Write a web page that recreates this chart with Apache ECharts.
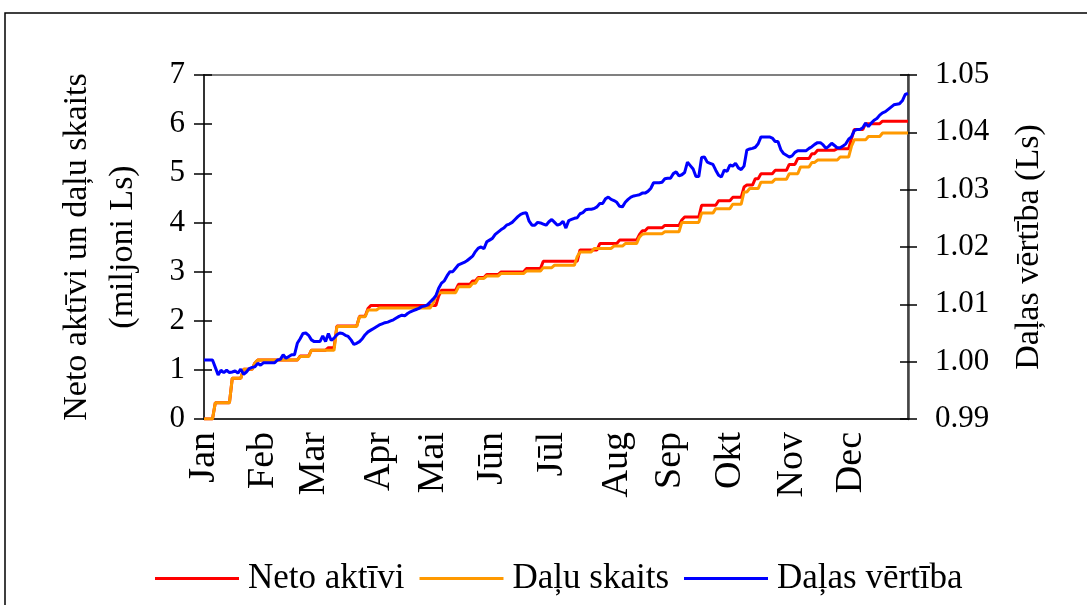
<!DOCTYPE html>
<html>
<head>
<meta charset="utf-8">
<script src="https://cdn.jsdelivr.net/npm/echarts@6/dist/echarts.min.js"></script>
<style>
html,body{margin:0;padding:0;background:#fff;}
#chart{width:1087px;height:605px;}
</style>
</head>
<body>
<div id="chart"></div>
<script>
// ---- data ----
const monthLabels = ['Jan','Feb','Mar','Apr','Mai','Jūn','Jūl','Aug','Sep','Okt','Nov','Dec'];
// trading-day index of the first day of each month
const monthStartIdx = [0,21,39,62,81,102,123,146,165,186,208,229];

const seriesNames = ['Neto aktīvi','Daļu skaits','Daļas vērtība'];

// Neto aktīvi (miljoni Ls), one value per trading day
const netoAktivi = [
0,0,0,0,
0.33,0.33,0.33,0.33,0.33,0.33,
0.83,0.83,0.83,0.83,
1.01,1.01,1.01,1.01,
1.14,
1.2,1.2,1.2,1.2,1.2,1.2,1.2,1.2,1.2,1.2,1.2,1.2,1.2,1.2,1.2,
1.28,1.28,1.28,1.28,
1.40,1.40,1.40,1.40,1.40,1.40,
1.45,1.45,1.45,
1.89,1.89,1.89,1.89,1.89,1.89,1.89,1.89,
2.09,2.09,2.09,
2.25,
2.31,2.31,2.31,2.31,2.31,2.31,2.31,2.31,2.31,2.31,2.31,2.31,2.31,2.31,2.31,2.31,2.31,2.31,2.31,2.31,2.31,2.31,2.31,2.31,
2.50,
2.62,2.62,2.62,2.62,2.62,2.62,
2.74,2.74,2.74,2.74,2.74,
2.81,2.81,
2.88,2.88,2.88,
2.94,2.94,2.94,2.94,2.94,
2.99,2.99,2.99,2.99,2.99,2.99,2.99,2.99,2.99,
3.06,3.06,3.06,3.06,3.06,3.06,
3.21,3.21,3.21,3.21,3.21,3.21,3.21,3.21,3.21,3.21,3.21,3.21,3.21,
3.44,3.44,3.44,3.44,3.44,3.44,3.44,
3.57,3.57,3.57,3.57,3.57,3.57,3.57,
3.64,3.64,3.64,3.64,3.64,3.64,3.64,
3.75,
3.83,3.83,
3.89,3.89,3.89,3.89,3.89,3.89,
3.94,3.94,3.94,3.94,3.94,3.94,
4.05,
4.11,4.11,4.11,4.11,4.11,4.11,
4.35,4.35,4.35,4.35,4.35,4.35,
4.44,4.44,4.44,4.44,4.44,
4.51,4.51,4.51,4.51,
4.72,
4.76,4.76,4.76,
4.89,4.89,
4.99,4.99,4.99,4.99,4.99,
5.06,5.06,5.06,5.06,5.06,
5.18,5.18,5.18,
5.30,5.30,5.30,5.30,5.30,
5.40,5.40,
5.47,5.47,5.47,5.47,5.47,5.47,5.47,
5.50,5.50,5.50,5.50,5.50,
5.70,
5.89,5.89,5.89,5.89,
6.01,6.01,6.01,6.01,6.01,6.01,
6.06,6.06,6.06,6.06,6.06,6.06,6.06,6.06,6.06,6.06
];

// Daļu skaits (miljoni), one value per trading day
const dajuSkaits = [
0,0,0,0,
0.33,0.33,0.33,0.33,0.33,0.33,
0.83,0.83,0.83,0.83,
1.01,1.01,1.01,1.01,
1.14,
1.2,1.2,1.2,1.2,1.2,1.2,1.2,1.2,1.2,1.2,1.2,1.2,1.2,1.2,1.2,
1.27,1.27,1.27,1.27,
1.40,1.40,1.40,1.40,1.40,1.40,1.40,1.40,1.40,
1.88,1.88,1.88,1.88,1.88,1.88,1.88,1.88,
2.08,2.08,2.08,
2.22,2.22,2.22,2.22,
2.26,2.26,2.26,2.26,2.26,2.26,2.26,2.26,2.26,2.26,2.26,2.26,2.26,2.26,2.26,2.26,2.26,2.26,2.26,
2.35,
2.50,
2.57,2.57,2.57,2.57,2.57,2.57,2.57,
2.69,2.69,2.69,2.69,2.69,
2.76,2.76,
2.86,2.86,2.86,
2.91,2.91,2.91,2.91,2.91,
2.96,2.96,2.96,2.96,2.96,2.96,2.96,2.96,2.96,
3.01,3.01,3.01,3.01,3.01,3.01,
3.08,3.08,3.08,3.08,
3.13,3.13,3.13,3.13,3.13,3.13,3.13,3.13,
3.30,
3.40,3.40,3.40,3.40,3.40,
3.47,3.47,3.47,3.47,3.47,3.47,3.47,
3.52,3.52,3.52,3.52,
3.57,3.57,3.57,3.57,3.57,
3.70,
3.76,
3.77,3.77,3.77,3.77,3.77,3.77,3.77,
3.81,3.81,3.81,3.81,3.81,3.81,
4.00,4.00,4.00,4.00,4.00,4.00,4.00,
4.19,4.19,4.19,4.19,4.19,
4.28,4.28,4.28,4.28,4.28,4.28,
4.37,4.37,4.37,4.37,
4.62,4.62,
4.69,4.69,4.69,4.69,
4.82,4.82,4.82,4.82,4.82,
4.88,4.88,4.88,4.88,4.88,
4.99,4.99,4.99,4.99,
5.13,5.13,5.13,5.13,
5.22,5.22,
5.27,5.27,5.27,5.27,5.27,5.27,5.27,5.27,
5.33,5.33,5.33,5.33,
5.55,
5.68,5.68,5.68,5.68,5.68,
5.75,5.75,5.75,5.75,5.75,
5.82,5.82,5.82,5.82,5.82,5.82,5.82,5.82,5.82,5.82
];

// Daļas vērtība (Ls), one value per trading day
const dalasVertiba = [
1.0003,1.0003,1.0003,1.0003,0.9990,0.9977,0.9985,0.9981,0.9985,0.9981,
0.9982,0.9984,0.9980,0.9987,0.9978,0.9982,0.9988,0.9990,0.9991,0.9997,
0.9994,0.9998,0.9998,0.9998,0.9998,0.9998,1.0003,1.0004,1.0012,1.0006,
1.0009,1.0012,1.0012,1.0032,1.0040,1.0049,1.0050,1.0046,1.0038,1.0035,
1.0035,1.0035,1.0045,1.0035,1.0049,1.0037,1.0041,1.0047,1.0050,1.0049,
1.0046,1.0044,1.0038,1.0030,1.0032,1.0035,1.0040,1.0047,1.0052,1.0055,
1.0058,1.0061,1.0064,1.0066,1.0068,1.0069,1.0071,1.0073,1.0076,1.0079,
1.0081,1.0080,1.0084,1.0087,1.0089,1.0091,1.0093,1.0096,1.0097,1.0099,
1.0104,1.0109,1.0115,1.0128,1.0137,1.0141,1.0150,1.0157,1.0157,1.0163,
1.0169,1.0171,1.0173,1.0176,1.0180,1.0184,1.0192,1.0198,1.0200,1.0197,
1.0209,1.0212,1.0215,1.0222,1.0226,1.0230,1.0233,1.0238,1.0240,1.0243,
1.0248,1.0253,1.0257,1.0259,1.0260,1.0245,1.0238,1.0238,1.0243,1.0242,
1.0240,1.0238,1.0244,1.0248,1.0243,1.0238,1.0240,1.0245,1.0233,1.0246,
1.0248,1.0250,1.0251,1.0258,1.0260,1.0265,1.0266,1.0266,1.0267,1.0270,
1.0276,1.0276,1.0284,1.0287,1.0283,1.0281,1.0278,1.0271,1.0270,1.0278,
1.0283,1.0287,1.0289,1.0290,1.0291,1.0294,1.0294,1.0297,1.0302,1.0312,
1.0312,1.0312,1.0313,1.0319,1.0320,1.0320,1.0328,1.0331,1.0324,1.0326,
1.0330,1.0348,1.0342,1.0336,1.0323,1.0323,1.0356,1.0357,1.0348,1.0346,
1.0344,1.0334,1.0325,1.0322,1.0334,1.0332,1.0343,1.0341,1.0346,1.0338,
1.0335,1.0341,1.0369,1.0371,1.0372,1.0374,1.0380,1.0392,1.0392,1.0392,
1.0392,1.0390,1.0384,1.0384,1.0370,1.0363,1.0360,1.0357,1.0359,1.0365,
1.0368,1.0368,1.0368,1.0368,1.0372,1.0375,1.0379,1.0382,1.0382,1.0378,
1.0372,1.0376,1.0381,1.0377,1.0373,1.0373,1.0376,1.0380,1.0388,1.0392,
1.0403,1.0405,1.0405,1.0408,1.0416,1.0410,1.0416,1.0421,1.0424,1.0430,
1.0434,1.0436,1.0440,1.0444,1.0448,1.0449,1.0450,1.0455,1.0466,1.0468
];

const serifFont = '"Liberation Serif", "Times New Roman", serif';
const dayCategories = dalasVertiba.map((v, i) => String(i));

const chart = echarts.init(document.getElementById('chart'), null, {renderer: 'canvas'});

const tickStyle = {color: '#000', width: 1.5};

chart.setOption({
  animation: false,
  backgroundColor: '#fff',
  textStyle: {fontFamily: serifFont},
  graphic: [{
    type: 'rect',
    silent: true,
    z: -10,
    shape: {x: 5, y: 13, width: 1100, height: 700},
    style: {fill: 'none', stroke: '#000', lineWidth: 1.5}
  }],
  grid: {
    left: 204, right: 179, top: 75, bottom: 186,
    show: true, borderColor: '#808080', borderWidth: 2, backgroundColor: 'transparent'
  },
  legend: {
    data: seriesNames,
    left: 150, top: 556,
    icon: 'rect', itemWidth: 84, itemHeight: 3, itemGap: 15,
    textStyle: {fontFamily: serifFont, fontSize: 35, color: '#000', padding: [0, 0, 0, 4]}
  },
  xAxis: {
    type: 'category',
    data: dayCategories,
    boundaryGap: false,
    axisLine: {show: true, lineStyle: {color: '#333', width: 2}},
    axisTick: {show: false},
    splitLine: {show: false},
    axisLabel: {
      interval: (i) => monthStartIdx.includes(i),
      formatter: (v, i) => monthLabels[monthStartIdx.indexOf(Number(v))] || '',
      rotate: 90,
      margin: 13,
      fontFamily: serifFont, fontSize: 38, color: '#000'
    }
  },
  yAxis: [
    {
      type: 'value', position: 'left', min: 0, max: 7, interval: 1,
      name: 'Neto aktīvi un daļu skaits\n(miljoni Ls)',
      nameLocation: 'middle', nameRotate: 90, nameGap: 58,
      nameTextStyle: {fontFamily: serifFont, fontSize: 34, color: '#000', lineHeight: 46},
      axisLine: {show: true, lineStyle: {color: '#333', width: 2}},
      axisTick: {show: true, inside: false, length: 10, lineStyle: tickStyle},
      axisLabel: {margin: 19, fontFamily: serifFont, fontSize: 31, color: '#000'},
      splitLine: {show: false}
    },
    {
      type: 'value', position: 'right', min: 0.99, max: 1.05, interval: 0.01,
      name: 'Daļas vērtība (Ls)',
      nameLocation: 'middle', nameRotate: 90, nameGap: 104,
      nameTextStyle: {fontFamily: serifFont, fontSize: 34, color: '#000'},
      axisLine: {show: true, lineStyle: {color: '#444', width: 2.5}},
      axisTick: {show: true, inside: false, length: 9, lineStyle: tickStyle},
      axisLabel: {margin: 27, fontFamily: serifFont, fontSize: 31, color: '#000',
        formatter: (v) => v.toFixed(2)},
      splitLine: {show: false}
    },
    {
      type: 'value', position: 'left', min: 0, max: 7, interval: 1,
      axisLine: {show: false},
      axisTick: {show: true, inside: true, length: 8, lineStyle: tickStyle},
      axisLabel: {show: false},
      splitLine: {show: false}
    },
    {
      type: 'value', position: 'right', min: 0.99, max: 1.05, interval: 0.01,
      axisLine: {show: false},
      axisTick: {show: true, inside: true, length: 8, lineStyle: tickStyle},
      axisLabel: {show: false},
      splitLine: {show: false}
    }
  ],
  series: [
    {
      name: seriesNames[0], type: 'line', yAxisIndex: 0, data: netoAktivi,
      symbol: 'none', showSymbol: false,
      lineStyle: {color: '#FF0000', width: 3}, itemStyle: {color: '#FF0000'}
    },
    {
      name: seriesNames[1], type: 'line', yAxisIndex: 0, data: dajuSkaits,
      symbol: 'none', showSymbol: false,
      lineStyle: {color: '#FF9900', width: 3}, itemStyle: {color: '#FF9900'}
    },
    {
      name: seriesNames[2], type: 'line', yAxisIndex: 1, data: dalasVertiba,
      symbol: 'none', showSymbol: false,
      lineStyle: {color: '#0000FF', width: 3}, itemStyle: {color: '#0000FF'}
    }
  ]
});
</script>
</body>
</html>
